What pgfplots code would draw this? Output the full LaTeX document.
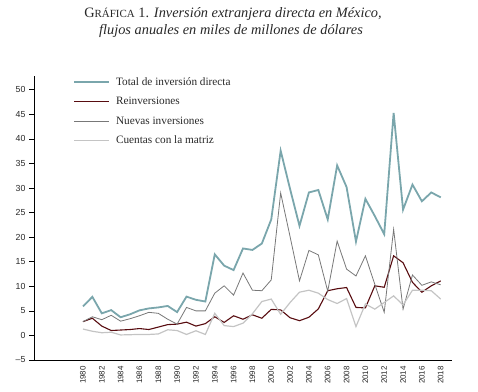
\documentclass[border=0pt]{standalone}
\usepackage{fontspec}
\setmainfont{Liberation Serif}
\newfontfamily\tickfont{Liberation Sans}
\usepackage{pgfplots}
\pgfplotsset{compat=1.18}
\definecolor{tealc}{RGB}{122,166,172}
\definecolor{dred}{RGB}{88,12,16}
\definecolor{mgray}{RGB}{120,120,120}
\definecolor{lgray}{RGB}{196,196,196}
\definecolor{txt}{RGB}{40,40,40}
\pgfplotstableread{
year total reinv nuevas cuentas
1980 5.9 2.8 2.8 1.3
1981 7.85 3.5 3.8 0.85
1982 4.5 1.9 3.2 0.55
1983 5.15 1.0 4.1 0.65
1984 3.7 1.1 2.9 0.1
1985 4.3 1.2 3.4 0.15
1986 5.1 1.4 4.0 0.2
1987 5.5 1.2 4.7 0.2
1988 5.7 1.7 4.5 0.3
1989 6.0 2.2 3.3 1.15
1990 4.75 2.3 2.3 1.0
1991 7.9 2.7 5.7 0.2
1992 7.25 1.9 5.0 0.95
1993 6.9 2.4 5.0 0.2
1994 16.5 3.8 8.6 4.5
1995 14.2 2.65 10.1 2.0
1996 13.3 4.0 8.2 1.8
1997 17.7 3.3 12.7 2.5
1998 17.4 4.2 9.2 4.4
1999 18.7 3.5 9.1 6.9
2000 23.6 5.3 11.3 7.4
2001 37.6 5.2 29.0 4.3
2002 29.8 3.6 20.1 6.7
2003 22.3 3.0 11.1 8.8
2004 29.1 3.7 17.3 9.2
2005 29.6 5.4 16.4 8.6
2006 23.6 9.1 9.0 7.3
2007 34.6 9.5 19.2 6.5
2008 30.2 9.75 13.5 7.5
2009 19.1 5.7 12.1 1.8
2010 27.8 5.6 16.2 6.4
2011 24.3 10.1 10.4 5.35
2012 20.6 9.8 4.7 6.7
2013 45.3 16.2 21.6 8.05
2014 25.6 14.8 5.35 6.2
2015 30.7 10.8 12.3 9.2
2016 27.3 8.8 10.2 9.2
2017 29.1 10.1 10.9 9.1
2018 28.1 11.1 10.3 7.4
}\datatable
\begin{document}
\begin{tikzpicture}
\path[use as bounding box] (0bp,0bp) rectangle (478bp,392bp);
\node[text=txt, font=\fontsize{14.4}{16}\selectfont] at (233bp,378bp)
  {G{\fontsize{11}{13}\selectfont RÁFICA} 1. \textit{Inversión extranjera directa en México,}};
\node[text=txt, font=\fontsize{14.4}{16}\selectfont\itshape] at (231bp,361.5bp)
  {flujos anuales en miles de millones de dólares};
\begin{axis}[
  at={(34bp,32bp)}, anchor=south west, scale only axis,
  width=418bp, height=284bp,
  xmin=1974.8, xmax=2019.2, ymin=-5, ymax=52.8,
  axis x line=bottom, axis y line=left,
  axis line style={-, line width=0.8bp, black},
  xtick={1980,1982,...,2018},
  xticklabels={1980,1982,1984,1986,1988,1990,1992,1994,1996,1998,2000,2002,2004,2006,2008,2010,2012,2014,2016,2018},
  ytick={-5,0,5,10,15,20,25,30,35,40,45,50},
  yticklabels={–5,0,5,10,15,20,25,30,35,40,45,50},
  xtick style={draw=none},
  ytick style={black, line width=0.6bp},
  tick align=outside, major tick length=5bp,
  x tick label style={rotate=90, anchor=east, font=\tickfont\fontsize{8}{9}\selectfont, text=txt, inner sep=1bp},
  y tick label style={font=\tickfont\fontsize{8.8}{10}\selectfont, text=txt},
  legend cell align=left,
  legend image code/.code={\draw[#1] (0bp,0bp) -- (35bp,0bp);},
  legend style={at={(0.0934,0.995)}, anchor=north west, draw=none, fill=none,
    inner sep=0pt, font=\fontsize{11.3}{13}\selectfont, text=txt,
    row sep=10bp, column sep=6bp,
    nodes={inner sep=0pt, text height=7.5bp, text depth=2bp}},
]
\addplot[tealc, line width=1.8bp] table[x=year, y=total] {\datatable};
\addlegendentry{Total de inversión directa}
\addplot[dred, line width=1.1bp] table[x=year, y=reinv] {\datatable};
\addlegendentry{Reinversiones}
\addplot[mgray, line width=0.8bp] table[x=year, y=nuevas] {\datatable};
\addlegendentry{Nuevas inversiones}
\addplot[lgray, line width=1.2bp] table[x=year, y=cuentas] {\datatable};
\addlegendentry{Cuentas con la matriz}
\end{axis}
\end{tikzpicture}
\end{document}
